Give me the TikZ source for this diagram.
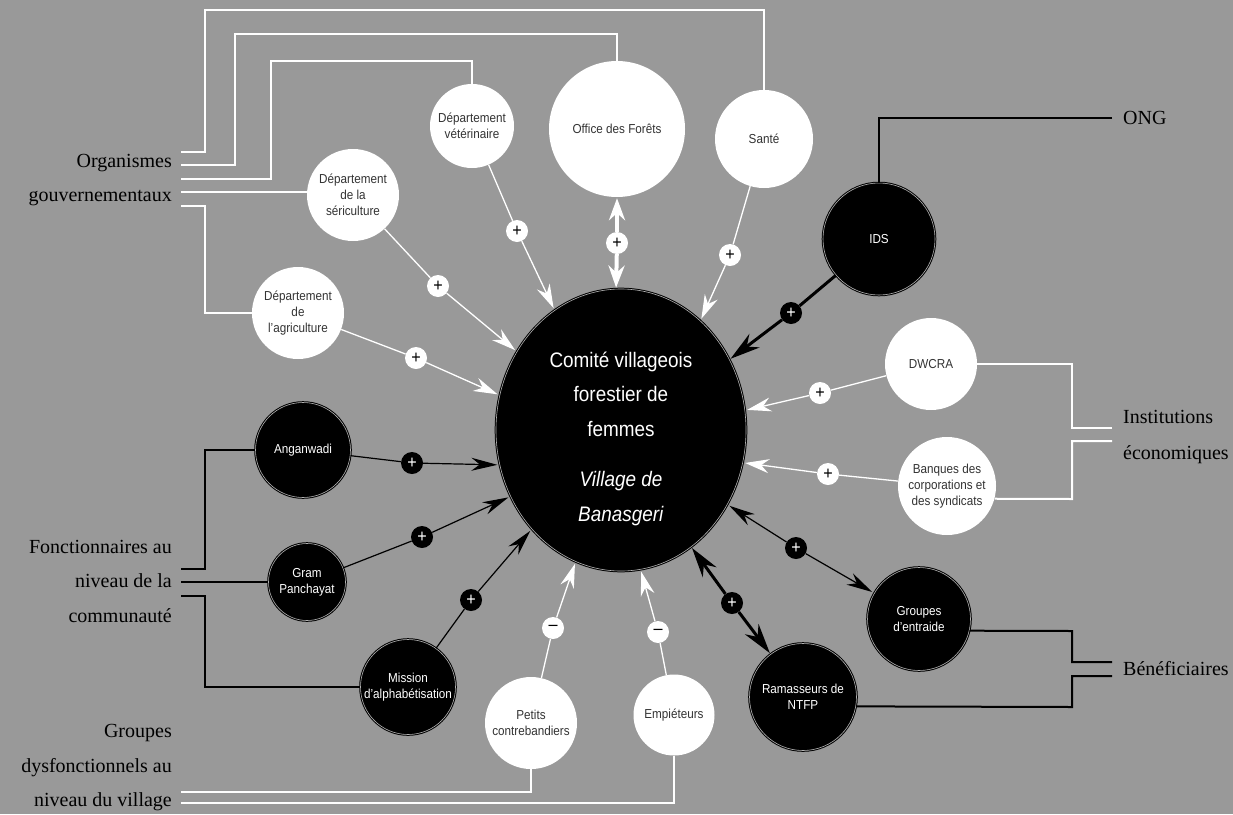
\documentclass[tikz,border=0pt]{standalone}
\usepackage{fontspec}
\setmainfont{Liberation Serif}
\newfontfamily\nodefont[FakeStretch=0.9]{Liberation Sans}
\usetikzlibrary{arrows.meta,shapes.geometric}
\definecolor{bggray}{RGB}{153,153,153}

\begin{document}
\begin{tikzpicture}[x=1pt, y=-1pt,
  wcirc/.style={circle, fill=white, inner sep=1pt, align=center, text=black!80,
    font=\nodefont\fontsize{13}{16}\selectfont},
  bcirc/.style={circle, fill=black, draw=black, line width=1pt, double=gray!60,
    double distance=0.6pt, inner sep=1pt, align=center, text=white,
    font=\nodefont\fontsize{13}{16}\selectfont},
  wbadge/.style={circle, fill=white, inner sep=0pt, minimum size=22pt, text=black,
    font=\nodefont\fontsize{18}{18}\selectfont},
  bbadge/.style={wbadge, fill=black, text=white},
  grp/.style={inner sep=0pt, font=\fontsize{20}{34.5}\selectfont},
  wlink/.style={draw=white, line width=1.3pt, shorten >=2pt, -{Stealth[length=24pt,width=14pt]}},
  blink/.style={draw=black, line width=1.2pt, shorten >=2pt, -{Stealth[length=26pt,width=13pt]}},
  wthick/.style={draw=white, line width=4pt, shorten >=1pt, -{Stealth[length=22pt,width=16pt]}},
  bthick/.style={draw=black, line width=3pt, shorten >=1pt, -{Stealth[length=30pt,width=17pt]}},
  wbrack/.style={draw=white, line width=2pt},
  bbrack/.style={draw=black, line width=2pt}]

\useasboundingbox (0,0) rectangle (1233,814);
\fill[bggray] (0,0) rectangle (1233,814);

% Centre
\node[ellipse, fill=black, draw=black, line width=1pt, double=gray!60, double distance=0.6pt,
  minimum width=250pt, minimum height=282pt, inner xsep=0pt, inner ysep=-8pt, align=center, text=white,
  font=\nodefont\fontsize{21}{34.5}\selectfont] (com) at (621,430)
  {\rule{0pt}{33pt}Comité villageois\\forestier de\\femmes\\[16pt]\textit{Village de}\\\textit{Banasgeri}};

% White circles
\node[wcirc, minimum size=84pt] (vet) at (472,126) {Département\\vétérinaire};
\node[wcirc, minimum size=136pt] (forets) at (617,129) {Office des Forêts};
\node[wcirc, minimum size=98pt] (sante) at (764,139) {Santé};
\node[wcirc, minimum size=92pt] (seri) at (353,195) {Département\\de la\\sériculture};
\node[wcirc, minimum size=92pt] (agri) at (298,313) {Département\\de\\l’agriculture};
\node[wcirc, minimum size=92pt] (dwcra) at (931,364) {DWCRA};
\node[wcirc, minimum size=98pt] (banques) at (947,486) {Banques des\\corporations et\\des syndicats};
\node[wcirc, minimum size=92pt] (petits) at (531,723) {Petits\\contrebandiers};
\node[wcirc, minimum size=81pt] (empiet) at (674,715) {Empiéteurs};

% Black circles
\node[bcirc, minimum size=112pt] (ids) at (879,239) {IDS};
\node[bcirc, minimum size=95pt] (angan) at (303,450) {Anganwadi};
\node[bcirc, minimum size=77pt] (gram) at (307,582) {Gram\\Panchayat};
\node[bcirc, minimum size=95pt] (mission) at (408,687) {Mission\\d’alphabétisation};
\node[bcirc, minimum size=103pt] (entraide) at (919,619) {Groupes\\d’entraide};
\node[bcirc, minimum size=107pt] (ramass) at (803,697) {Ramasseurs de\\NTFP};

% Signs
\node[wbadge] (pvet) at (517,231) {+};
\node[wbadge] (pfor) at (617,243) {+};
\node[wbadge] (psan) at (730,255) {+};
\node[wbadge] (pser) at (438,286) {+};
\node[wbadge] (pagr) at (416,358) {+};
\node[wbadge] (pdwc) at (820,393) {+};
\node[wbadge] (pban) at (828,474) {+};
\node[wbadge] (mpet) at (553,628) {–};
\node[wbadge] (memp) at (658,632) {–};
\node[bbadge] (pids) at (791,313) {+};
\node[bbadge] (pang) at (412,463) {+};
\node[bbadge] (pgra) at (422,537) {+};
\node[bbadge] (pmis) at (471,600) {+};
\node[bbadge] (pram) at (732,603) {+};
\node[bbadge] (pent) at (796,548) {+};

% Links to the committee
\draw[wlink] (vet) -- (pvet) -- (com.119);
\draw[wlink] (sante) -- (psan) -- (com.54);
\draw[wlink] (seri) -- (pser) -- (com.143);
\draw[wlink] (agri) -- (pagr) -- (com.164);
\draw[wlink] (dwcra) -- (pdwc) -- (com.9);
\draw[wlink] (banques) -- (pban) -- (com.345);
\draw[wlink] (petits) -- (mpet) -- (com.251);
\draw[wlink] (empiet) -- (memp) -- (com.278);
\draw[wthick] (pfor) -- (forets);
\draw[wthick] (pfor) -- (com.92);
\draw[blink] (angan) -- (pang) -- (com.196);
\draw[blink] (gram) -- (pgra) -- (com.211);
\draw[blink] (mission) -- (pmis) -- (com.228);
\draw[bthick] (ids) -- (pids) -- (com.33);
\draw[bthick] (pram) -- (ramass);
\draw[bthick] (pram) -- (com.301);
\draw[blink] (pent) -- (entraide);
\draw[blink] (pent) -- (com.325);

% Groups
\node[grp, anchor=east, align=right] (orggov) at (172,180) {Organismes\\gouvernementaux};
\node[grp, anchor=east, align=right] (fonct) at (172,581) {Fonctionnaires au\\niveau de la\\communauté};
\node[grp, anchor=east, align=right] (dysf) at (172,768) {Groupes\\dysfonctionnels au\\niveau du village};
\node[grp, anchor=west] (ongl) at (1123,118) {ONG};
\node[grp, anchor=west, align=left, font=\fontsize{20}{36}\selectfont] (inst) at (1123,437) {Institutions\\économiques};
\node[grp, anchor=west] (benef) at (1123,669) {Bénéficiaires};

\coordinate (og1) at (181,152);
\coordinate (og2) at (181,165);
\coordinate (og3) at (181,179);
\coordinate (og4) at (181,192);
\coordinate (og5) at (181,206);
\coordinate (fc1) at (181,569);
\coordinate (fc2) at (181,582);
\coordinate (fc3) at (181,596);
\coordinate (gd1) at (181,792);
\coordinate (gd2) at (181,803);
\coordinate (ong) at (1112,118);
\coordinate (ie1) at (1112,428);
\coordinate (ie2) at (1112,441);
\coordinate (be1) at (1112,662);
\coordinate (be2) at (1112,676);

% Brackets
\draw[wbrack] (og1) -| (205,10) -| (sante);
\draw[wbrack] (og2) -| (235,34) -| (forets);
\draw[wbrack] (og3) -| (271,61) -| (vet);
\draw[wbrack] (og4) -- (og4 -| seri.west);
\draw[wbrack] (og5) -| (205,313) -- (agri);
\draw[bbrack] (fc1) -| (205,450) -- (angan);
\draw[bbrack] (fc2) -- (gram);
\draw[bbrack] (fc3) -| (205,687) -- (mission);
\draw[wbrack] (gd1) -| (petits);
\draw[wbrack] (gd2) -| (empiet);
\draw[bbrack] (ong) -| (ids);
\draw[wbrack] (ie1) -| (1072,364) -- (dwcra);
\draw[wbrack] (ie2) -| (1072,499) -- (banques.-15);
\draw[bbrack] (be1) -| (1072,631) -- (entraide.-13);
\draw[bbrack] (be2) -| (1072,707) -- (ramass.-10);

\end{tikzpicture}
\end{document}
